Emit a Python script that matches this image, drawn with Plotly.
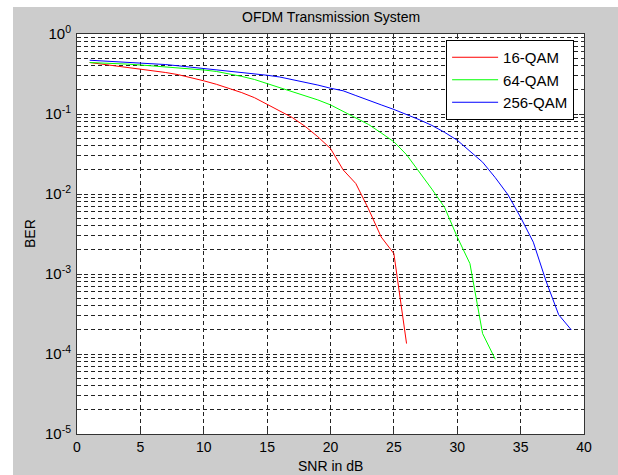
import plotly.graph_objects as go

snr_16 = list(range(1, 27))
ber_16 = [0.44, 0.42, 0.40, 0.385, 0.37, 0.35, 0.33, 0.31, 0.285, 0.26,
          0.235, 0.21, 0.185, 0.16, 0.132, 0.11, 0.09, 0.07, 0.052, 0.037,
          0.02, 0.0135, 0.0065, 0.0029, 0.0018, 0.000135]

snr_64 = list(range(1, 34))
ber_64 = [0.44, 0.435, 0.43, 0.42, 0.41, 0.40, 0.39, 0.38, 0.37, 0.355,
          0.34, 0.32, 0.295, 0.27, 0.24, 0.215, 0.19, 0.17, 0.15, 0.13,
          0.108, 0.089, 0.074, 0.058, 0.045, 0.031, 0.019, 0.0115, 0.0068,
          0.0029, 0.00135, 0.00018, 0.000086]

snr_256 = list(range(1, 40))
ber_256 = [0.47, 0.46, 0.455, 0.45, 0.44, 0.43, 0.415, 0.40, 0.385, 0.37,
           0.355, 0.345, 0.33, 0.32, 0.305, 0.29, 0.27, 0.25, 0.23, 0.21,
           0.195, 0.17, 0.15, 0.13, 0.114, 0.099, 0.085, 0.072, 0.059, 0.047,
           0.034, 0.025, 0.016, 0.0098, 0.0051, 0.0025, 0.00082, 0.00031, 0.0002]

x_ticks = [0, 5, 10, 15, 20, 25, 30, 35, 40]
y_tick_exps = [0, -1, -2, -3, -4, -5]

FONT = "Liberation Sans, Arial, sans-serif"
GRID_DASH = "4px,3px"

fig = go.Figure()
fig.add_trace(go.Scatter(x=snr_16, y=ber_16, mode="lines", name="16-QAM",
                         line=dict(color="#ff0000", width=1)))
fig.add_trace(go.Scatter(x=snr_64, y=ber_64, mode="lines", name="64-QAM",
                         line=dict(color="#00ff00", width=1)))
fig.add_trace(go.Scatter(x=snr_256, y=ber_256, mode="lines", name="256-QAM",
                         line=dict(color="#0000ff", width=1)))

y_tickvals = [10.0 ** e for e in y_tick_exps]
y_ticktext = ["10<sup>%d</sup>" % e for e in y_tick_exps]
minor_vals = [m * 10.0 ** e for e in range(-5, 0) for m in range(2, 10)]

fig.update_layout(
    width=618, height=475,
    margin=dict(l=77, r=34, t=34, b=41),
    paper_bgcolor="#cccccc",
    plot_bgcolor="white",
    font=dict(family=FONT, size=13, color="black"),
    showlegend=True,
    legend=dict(x=0.728, y=0.985, xanchor="left", yanchor="top",
                bgcolor="white", bordercolor="black", borderwidth=1,
                itemwidth=46,
                font=dict(family=FONT, size=15, color="black")),
    xaxis=dict(range=[0, 40], tickvals=x_ticks, ticktext=[str(v) for v in x_ticks],
               showgrid=True, gridcolor="#222222", griddash=GRID_DASH, gridwidth=1,
               showline=True, linecolor="#333333", linewidth=1, mirror="ticks",
               ticks="inside", ticklen=5, tickcolor="#333333",
               zeroline=False, tickfont=dict(size=14)),
    yaxis=dict(type="log", range=[-5, 0], tickvals=y_tickvals, ticktext=y_ticktext,
               showgrid=True, gridcolor="#222222", griddash=GRID_DASH, gridwidth=1,
               showline=True, linecolor="#333333", linewidth=1, mirror="ticks",
               ticks="inside", ticklen=5, tickcolor="#333333",
               zeroline=False, tickfont=dict(size=15), ticklabelstandoff=2,
               minor=dict(tickmode="array", tickvals=minor_vals, showgrid=True,
                          gridcolor="#222222", griddash=GRID_DASH, gridwidth=1,
                          ticks="inside", ticklen=3, tickcolor="#333333")),
    shapes=[
        dict(type="rect", xref="paper", yref="paper", x0=-0.2, x1=(13 - 77) / 507,
             y0=-0.2, y1=1.2, fillcolor="white", line=dict(width=0), layer="below"),
        dict(type="rect", xref="paper", yref="paper", x0=-0.2, x1=1.2,
             y0=(434 - 7) / 400, y1=1.2, fillcolor="white", line=dict(width=0), layer="below"),
    ],
    annotations=[
        dict(text="OFDM Transmission System", xref="paper", yref="paper",
             x=0.5, y=1.0, yshift=17, xanchor="center", yanchor="middle",
             showarrow=False, font=dict(size=14)),
        dict(text="SNR in dB", xref="paper", yref="paper",
             x=0.5, y=0.0, yshift=-32, xanchor="center", yanchor="middle",
             showarrow=False, font=dict(size=14)),
        dict(text="BER", xref="paper", yref="paper", textangle=-90,
             x=0.0, y=0.5, xshift=-47, xanchor="center", yanchor="middle",
             showarrow=False, font=dict(size=14)),
    ],
)

fig.write_html("out.html")
